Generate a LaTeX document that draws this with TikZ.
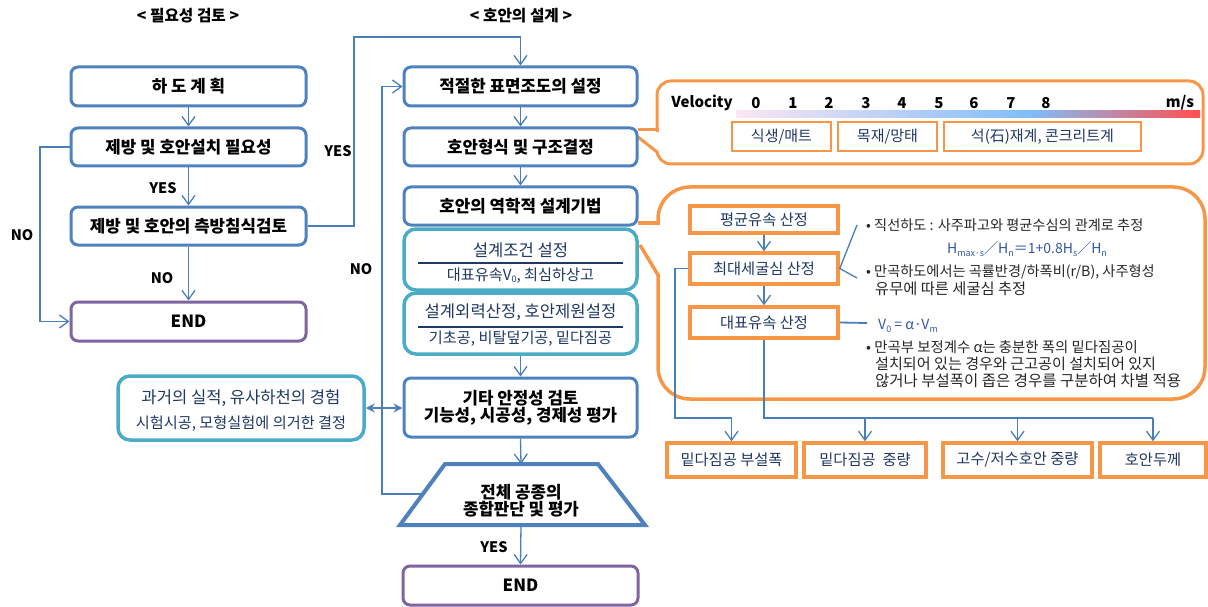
\documentclass[tikz,border=0pt]{standalone}
\usepackage{fontspec}
\setmainfont{Noto Sans CJK KR}
\usetikzlibrary{arrows.meta}
\definecolor{blueb}{HTML}{4F81BD}
\definecolor{lineb}{HTML}{4A7EBB}
\definecolor{purp}{HTML}{8064A2}
\definecolor{tealc}{HTML}{4BACC6}
\definecolor{orng}{HTML}{F79646}
\definecolor{navy}{HTML}{1F3864}
\definecolor{formb}{HTML}{2F55A4}
\definecolor{dtext}{HTML}{262626}
\definecolor{vpink}{HTML}{FBE6F4}
\definecolor{vblue}{HTML}{80BDFA}
\definecolor{vred}{HTML}{FF5050}
\newcommand\myfs[1]{\fontsize{#1}{#1}\selectfont}
\newcommand\mysub[1]{\raisebox{-0.3ex}{\fontsize{9}{9}\selectfont #1}}
\begin{document}
\begin{tikzpicture}[x=1pt,y=-1pt,
  bbox/.style={draw=blueb, line width=3pt, rounded corners=7pt, fill=white, inner sep=0pt, text=black, font=\bfseries\myfs{16.8}},
  pbox/.style={bbox, draw=purp},
  tbox/.style={draw=tealc, line width=3.5pt, rounded corners=12pt, fill=white, inner sep=0pt},
  ttxt/.style={text=navy, font=\myfs{16.6}, inner sep=0pt},
  ttxt2/.style={text=navy, font=\myfs{15.2}, inner sep=0pt},
  obox/.style={draw=orng, line width=3.5pt, fill=white, inner sep=0pt, text=navy, font=\myfs{15.3}},
  vbox/.style={draw=orng, line width=1.5pt, fill=white, inner sep=0pt, text=navy, font=\myfs{15}},
  vnum/.style={font=\bfseries\myfs{15}, text=black, inner sep=0pt},
  rtxt/.style={text=dtext, font=\myfs{14.2}, inner sep=0pt, anchor=west},
  ftxt/.style={text=formb, font=\myfs{14}, inner sep=0pt},
  lbl/.style={font=\bfseries\myfs{14.5}, text=black, inner sep=0pt},
  ttl/.style={font=\bfseries\myfs{15.7}, text=black, inner sep=0pt},
  conn/.style={draw=lineb, line width=1.3pt},
  arr/.style={conn, -{Straight Barb[length=9pt,width=13pt]}},
  dbl/.style={draw=blueb, line width=1.8pt, {Stealth[length=9pt,width=9pt]}-{Stealth[length=9pt,width=9pt]}},
  callout/.style={draw=orng, line width=3pt}
]
\useasboundingbox (0,0) rectangle (1208,607);

% titles
\node[ttl] (t1) at (188,16) {< 필요성 검토 >};
\node[ttl] (t2) at (521,16) {< 호안의 설계 >};

% callouts (background)
\draw[callout, rounded corners=14pt] (657,81) rectangle (1203,164);
\fill[white] (650,131.6) rectangle (665,151);
\draw[callout] (638,130) -- (658.5,130);
\draw[callout] (638,137) -- (657,152);

\draw[callout, line width=3.5pt, rounded corners=32pt] (658,187) rectangle (1205,399);
\fill[white] (650,224.8) rectangle (666,274);
\draw[callout, line width=3.5pt] (638,223) -- (659.75,223);
\draw[callout, line width=3.5pt] (640,245) -- (658,275);

% left column
\node[bbox, minimum width=235pt, minimum height=39pt] (A) at (188.5,86.5) {하 도 계 획};
\node[bbox, minimum width=235pt, minimum height=38pt] (B) at (188.5,147) {제방 및 호안설치 필요성};
\node[bbox, minimum width=235pt, minimum height=38pt] (C) at (188.5,226) {제방 및 호안의 측방침식검토};
\node[pbox, minimum width=235pt, minimum height=39pt] (D) at (188.5,321.5) {END};

% middle column
\node[bbox, minimum width=233pt, minimum height=39pt] (E) at (520.5,86.5) {적절한 표면조도의 설정};
\node[bbox, minimum width=233pt, minimum height=38pt] (F) at (520.5,147) {호안형식 및 구조결정};
\node[bbox, minimum width=233pt, minimum height=38pt] (G) at (520.5,206) {호안의 역학적 설계기법};

\node[tbox, minimum width=233pt, minimum height=61pt] (H) at (520.5,259.5) {};
\node[ttxt] (h1) at (520.5,250.5) {설계조건 설정};
\node[ttxt2] (h2) at (520.5,275.5) {대표유속V\mysub{0}, 최심하상고};
\draw[navy, line width=1.5pt] (418,263) -- (623,263);

\node[tbox, minimum width=233pt, minimum height=61pt] (I) at (520.5,323.5) {};
\node[ttxt] (i1) at (520.5,312) {설계외력산정, 호안제원설정};
\node[ttxt2] (i2) at (520.5,338.5) {기초공, 비탈덮기공, 밑다짐공};
\draw[navy, line width=1.5pt] (418,327) -- (623,327);

\node[bbox, minimum width=233pt, minimum height=59pt, align=center] (J) at (520.5,407.5) {기타 안정성 검토\\[0pt]기능성, 시공성, 경제성 평가};

% trapezoid
\draw[blueb, line width=4pt, line join=miter, fill=white] (445,464) -- (598,464) -- (645,525) -- (400,525) -- cycle;
\coordinate (Kt) at (521,464);
\coordinate (Kb) at (521,525);
\coordinate (Kl) at (422,494);
\node[align=center, font=\bfseries\myfs{16.8}, inner sep=0pt] (K) at (521,501) {전체 공종의\\[0pt]종합판단 및 평가};

\node[pbox, minimum width=235pt, minimum height=39pt] (L) at (520.5,585.5) {END};

% left teal box
\node[tbox, minimum width=246pt, minimum height=64pt] (M) at (241,408) {};
\node[ttxt] (m1) at (241,398) {과거의 실적, 유사하천의 경험};
\node[ttxt2] (m2) at (241,424) {시험시공, 모형실험에 의거한 결정};

% connectors left / middle
\draw[arr] (A) -- (B);
\draw[arr] (B) -- (C);
\draw[arr] (C) -- (D);
\draw[arr] (B.west) -- (40,147) -- (40,321.5) -- (D.west);
\draw[arr] (C.east) -- (354,226) -- (354,37) -- (520.5,37) -- (E.north);
\draw[arr] (E) -- (F);
\draw[arr] (F) -- (G);
\draw[arr] (I) -- (J);
\draw[arr] (J.south) -- (Kt);
\draw[arr] (Kb) -- (L.north);
\draw[arr] (Kl) -- (382,494) -- (382,86.5) -- (E.west);
\draw[dbl] (M.east) -- (J.west |- M.east);

% labels
\node[lbl] (y1) at (163,188) {YES};
\node[lbl] (n1) at (162,278) {NO};
\node[lbl] (n2) at (22,235) {NO};
\node[lbl] (y2) at (338,151) {YES};
\node[lbl] (n3) at (361,269) {NO};
\node[lbl] (y3) at (494,547) {YES};

% velocity callout content
\node[font=\bfseries\myfs{15}, inner sep=0pt] (vel) at (702,103) {Velocity};
\foreach \n/\x in {0/756,1/793,2/829,3/866,4/902,5/939,6/974,7/1011,8/1046}
  \node[vnum] (v\n) at (\x,103) {\n};
\node[vnum] (vms) at (1180,103) {m/s};
\shade[left color=vpink, right color=vblue] (736,111) rectangle (1031,118);
\shade[left color=vblue, right color=vred] (1030,111) rectangle (1200,118);
\node[vbox, minimum width=99pt, minimum height=29pt] (s1) at (781.5,136.5) {식생/매트};
\node[vbox, minimum width=99pt, minimum height=29pt] (s2) at (887.5,136.5) {목재/망태};
\node[vbox, minimum width=197pt, minimum height=29pt] (s3) at (1042.5,136.5) {석(石)재계, 콘크리트계};

% right detail
\node[obox, minimum width=148pt, minimum height=27pt] (P1) at (764,219.5) {평균유속 산정};
\node[obox, minimum width=148pt, minimum height=31pt] (P2) at (764,268.5) {최대세굴심 산정};
\node[obox, minimum width=148pt, minimum height=31pt] (P3) at (764,322.5) {대표유속 산정};
\draw[arr] (P1) -- (P2);
\draw[arr] (P2) -- (P3);
\coordinate (ca) at (857,225);
\coordinate (cb) at (857,278);
\coordinate (cc) at (867,323);
\draw[conn] (ca) -- (P2.east) -- (cb);
\draw[conn, line width=1.8pt] (P3.east) -- (cc);

\node[rtxt] (ra) at (866,225) {• 직선하도 : 사주파고와 평균수심의 관계로 추정};
\node[ftxt] (rf) at (1027,249) {H\mysub{max·s}／H\mysub{n}＝1+0.8H\mysub{s}／H\mysub{n}};
\node[rtxt] (rb1) at (866,272) {• 만곡하도에서는 곡률반경/하폭비(r/B), 사주형성};
\node[rtxt, font=\myfs{15.3}] (rb2) at (875,288.5) {유무에 따른 세굴심 추정};
\node[ftxt, anchor=west] (rv) at (878,326) {V\mysub{0} = α·V\mysub{m}};
\node[rtxt, font=\myfs{14.4}] (rc1) at (866,347.5) {• 만곡부 보정계수 α는 충분한 폭의 밑다짐공이};
\node[rtxt, font=\myfs{15.1}] (rc2) at (875,364) {설치되어 있는 경우와 근고공이 설치되어 있지};
\node[rtxt, font=\myfs{15.5}] (rc3) at (875,380.5) {않거나 부설폭이 좁은 경우를 구분하여 차별 적용};

\node[obox, minimum width=129pt, minimum height=34pt] (Q1) at (731.5,460) {밑다짐공 부설폭};
\node[obox, minimum width=122pt, minimum height=34pt] (Q2) at (865,460) {밑다짐공\ \ 중량};
\node[obox, minimum width=149pt, minimum height=34pt] (Q3) at (1017.5,460) {고수/저수호안 중량};
\node[obox, minimum width=106pt, minimum height=34pt] (Q4) at (1153,460) {호안두께};

\coordinate (bus) at (764,418);
\draw[arr] (P2.west) -- (675,268.5) -- (675,418) -- (Q1.north |- bus) -- (Q1.north);
\draw[conn, line width=1.8pt] (P3.south) -- (bus) -- (Q4.north |- bus);
\draw[arr] (Q2.north |- bus) -- (Q2.north);
\draw[arr] (Q3.north |- bus) -- (Q3.north);
\draw[arr] (Q4.north |- bus) -- (Q4.north);
\end{tikzpicture}
\end{document}
